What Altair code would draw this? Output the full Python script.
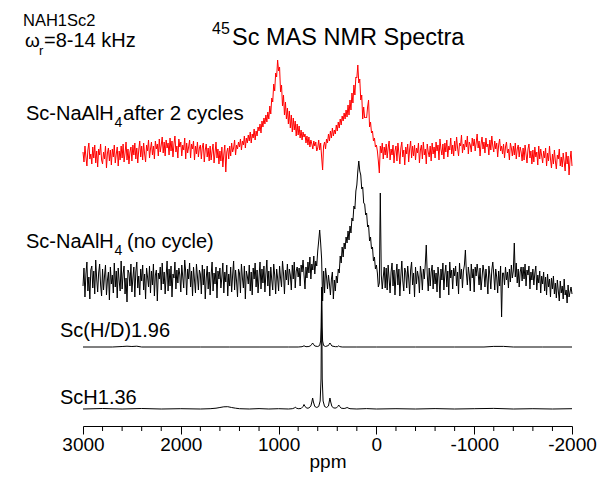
import altair as alt
import pandas as pd

FONT = "Liberation Sans"

# ---------------- data ----------------
# chemical-shift sampling grid of the two noisy spectra (ppm), 10 ppm steps
ppm_grid = list(range(3000, -2001, -10))

# Sc-NaAlH4 after 2 cycles (red), intensity above its own baseline
red_after_2_cycles = [
    3, -7, 9, -2, -11, 5, 12, -4, 1, -9,
    8, -3, 10, -8, 4, -12, 6, 0, 11, -5,
    -9, 3, -4, 9, -13, 2, 7, -6, 5, -10,
    6, -2, 10, -8, 1, 8, -11, 4, -5, 9,
    -3, 11, -7, 2, 13, -5, 6, -9, 3, 8,
    -6, 10, 0, 12, -4, 7, -8, 5, 14, -2,
    9, -5, 12, 1, -7, 10, 4, 15, -3, 6,
    13, 0, 9, -4, 14, 6, 11, -1, 16, 3,
    10, 18, 2, 13, -1, 15, 7, 12, 0, 17,
    4, 14, -2, 11, 19, 3, 9, -3, 16, 8,
    13, -1, 10, 5, 17, -4, 12, 2, 8, 15,
    -3, 11, 6, 14, -5, 9, 1, 13, -2, 7,
    10, -4, 8, 12, -7, 5, 11, -2, 7, -6,
    9, -5, 4, 11, -8, 2, 13, -3, 6, -9,
    4, -6, 8, -12, 1, 10, -17, 3, 7, -4,
    9, -1, 12, 3, 7, 15, 0, 10, 6, 13,
    8, 16, 5, 14, 10, 19, 7, 17, 12, 20,
    14, 23, 12, 21, 17, 26, 15, 24, 19, 28,
    24, 31, 22, 34, 28, 37, 31, 40, 33, 43,
    36, 49, 41, 57, 53, 71, 64, 82, 78, 95,
    84, 88, 63, 70, 49, 60, 40, 53, 36, 47,
    31, 44, 27, 40, 23, 37, 25, 34, 19, 31,
    20, 29, 17, 25, 15, 23, 18, 21, 12, 19,
    10, 18, 8, 15, 11, 6, 14, 9, 13, 4,
    7, 15, 5, 12, -2, -15, 9, 13, 6, 16,
    12, 21, 14, 24, 17, 27, 19, 25, 21, 30,
    24, 33, 27, 36, 30, 39, 34, 42, 36, 45,
    38, 50, 40, 55, 45, 62, 52, 70, 60, 78,
    77, 90, 72, 76, 55, 60, 36, 48, 37, 38,
    37, 48, 55, 28, 33, 22, 24, 14, 17, 8,
    10, 4, -6, -18, 9, 2, 12, -4, 8, 0,
    11, -3, 7, 14, -5, 6, 0, 10, -8, 4,
    9, -6, 12, 2, -9, 7, 13, -2, 5, -10,
    8, 1, 11, -7, 6, 14, -3, 9, -1, 10,
    -5, 7, 2, 12, -8, 5, 10, -4, 13, 0,
    6, -9, 11, 3, -2, 9, -6, 12, 1, 8,
    -3, 13, 4, 10, -5, 16, 6, 0, 11, -4,
    12, 3, 15, -2, 9, 5, 17, 1, 10, -1,
    14, 4, 18, 7, -1, 12, 9, 20, 2, 11,
    5, 15, 8, 19, 1, 13, 10, 3, 17, 9,
    16, 4, 12, 21, 7, 14, -1, 11, 18, 6,
    13, 2, 17, 8, 11, 0, 15, 5, 19, 9,
    3, 14, 6, 12, -2, 10, 16, 4, 9, 1,
    11, -3, 8, 13, 2, 6, -5, 12, 7, -1,
    9, 0, 12, -4, 6, 10, -2, 8, 3, -6,
    7, -5, 10, 1, -8, 6, 11, -3, 4, -9,
    5, -7, 8, -2, 3, -10, 9, -4, 6, -1,
    -8, 4, -3, 7, -11, 2, -6, 9, -4, -13,
    1, -9, 5, -6, -14, 0, -4, 6, -11, -2,
    -12, 2, -7, -16, 3, -9, -1, -20, -5, 4,
    -11,
]

# Sc-NaAlH4 (no cycle), black
black_no_cycle = [
    -5, 13, -16, 7, 19, -10, 4, -18, 11, 15,
    -7, 10, -13, 21, 2, -11, 8, 17, -4, -15,
    12, -9, 5, 16, -14, 1, 9, -19, 14, -3,
    6, -12, 18, -6, 10, -17, 13, 0, -10, 20,
    -8, 7, 15, -13, 3, -21, 11, 8, -5, 17,
    -11, 3, 14, -16, 9, 19, -7, 5, -14, 12,
    0, 16, -9, 7, -18, 13, 4, -6, 15, -12,
    10, -4, 17, -15, 6, 11, -20, 8, 2, 14,
    -9, 18, -3, 9, -13, 5, 20, -10, 12, -5,
    15, -16, 7, 3, 19, -8, 11, -2, 13, 6,
    -11, 16, 4, -7, 21, 9, -14, 12, 2, 18,
    -6, 10, -15, 14, 1, -12, 17, 5, -9, 11,
    7, -13, 16, -4, 12, -18, 3, 15, -8, 9,
    -14, 6, 19, -10, 8, -3, 14, -17, 10, 2,
    13, -7, 4, 18, -12, 9, -1, 16, -15, 7,
    -5, 14, -11, 6, 20, -9, 11, 0, -16, 12,
    8, -12, 17, 3, -7, 15, -18, 10, 5, -3,
    16, -10, 9, -14, 13, 2, 18, -6, 11, -12,
    4, 19, -8, 12, -2, 15, -11, 7, 21, -5,
    10, -15, 14, 1, -9, 17, 6, -13, 12, 3,
    -10, 15, 3, -6, 20, 8, -13, 11, 1, 17,
    -4, 12, 6, -9, 16, 2, 19, -7, 10, 14,
    4, 13, -5, 16, 9, 21, 6, -8, 14, 3,
    19, 8, 24, 2, 17, 11, 25, 7, 20, 15,
    30, 40, 51, 38, 22, -20, 10, -12, 13, 4,
    -8, 6, -3, -14, 2, 9, -18, 1, -10, 5,
    -2, 12, 8, 25, 18, 34, 24, 38, 32, 44,
    38, 50, 41, 55, 48, 63, 60, 75, 72, 90,
    96, 110, 120, 110, 106, 92, 94, 78, 77, 66,
    68, 54, 56, 40, 44, 32, 34, 20, 24, 12,
    16, 8, -6, -2, 88, 6, -8, 4, 14, -7,
    13, -9, 16, 2, -12, 9, 18, -5, 11, -14,
    6, 17, -4, 12, -15, 5, 20, 0, -10, 13,
    9, -7, 15, 3, -13, 11, 19, -4, 8, -16,
    14, -3, 10, 4, -12, 15, 7, -9, 12, 2,
    17, 36, 6, -10, 13, -5, 9, 16, -8, 11,
    -3, 8, -11, 14, 4, -17, 12, 1, 18, -9,
    7, 16, -6, 10, -14, 19, 3, 11, -8, 13,
    5, 15, -5, 9, -13, 18, 2, 12, -7, 10,
    16, 31, 8, -4, 14, 6, -10, 17, 3, 12,
    -11, 14, 5, 17, 8, -4, 13, -9, 3, 16,
    9, -6, 12, 2, -13, 15, 6, -8, 11, 19,
    7, -9, 12, 4, -12, 10, -5, 15, -36, 8,
    8, -4, 14, 1, 9, -7, 12, -1, 16, 3,
    10, 38, 4, 18, -2, 12, -6, 9, 14, 0,
    14, 2, 17, -5, 11, 6, 15, -8, 9, 1,
    12, -4, 8, 15, -9, 6, -2, 10, -12, 5,
    -3, 9, -10, 4, -14, 7, -6, 2, -16, 3,
    -8, 5, -13, -2, -17, 1, -10, -20, 0, -12,
    -5, -18, 2, -14, -9, -22, -4, -16, -11, -6,
    -13,
]

# Sc(H/D)1.96
hd_ppm = [3000, 2700, 2600, 2550, 2500, 2450, 2400, 2100, 1800, 1500,
          1200, 900, 800, 760, 740, 720, 690, 670, 660, 652,
          644, 630, 600, 580, 570, 565, 560, 555, 550, 540,
          520, 490, 483, 475, 467, 455, 420, 395, 385, 375,
          350, 200, 0, -400, -800, -1100, -1200, -1300, -1400, -1700,
          -2000]
hd_int = [0, 0, 0.5, 0.8, 0.5, 0.8, 0, 0, 0, 0,
          0, 0, 0, 0.3, 1.2, 0.3, 0.5, 1.5, 2.8, 4,
          2.8, 1, 0.5, 1.5, 6, 20, 60, 20, 6, 1.5,
          0.5, 1.5, 2.8, 4, 2.8, 1, 0.3, 0.4, 1.2, 0.4,
          0, 0, 0, 0, 0, 0, 0.6, 0.6, 0, 0,
          0]

# ScH1.36
sch_ppm = [3000, 2800, 2600, 2400, 2200, 2000, 1800, 1700, 1640, 1600,
           1560, 1520, 1480, 1440, 1400, 1300, 1200, 1100, 1000, 900,
           860, 840, 830, 820, 800, 770, 750, 740, 730, 710,
           690, 670, 660, 652, 644, 630, 610, 590, 575, 566,
           560, 554, 545, 530, 510, 490, 483, 475, 467, 455,
           435, 410, 395, 385, 375, 360, 330, 310, 300, 290,
           270, 200, 100, 0, -200, -400, -600, -800, -1000, -1200,
           -1400, -1600, -1800, -2000]
sch_int = [0, 0.5, 0, 0.5, 0, 0.3, 0, 0.3, 0.8, 1.5,
           2.2, 2.3, 1.5, 0.8, 0.3, 0, 0.4, 0, 0.3, 0,
           0.3, 1, 1.8, 1, 0.3, 0.5, 2.5, 4.5, 2.5, 0.8,
           1, 3, 7, 11, 7, 2.5, 1.5, 2.5, 8, 30,
           119, 30, 8, 2.5, 1.5, 3, 7, 11, 7, 2.5,
           1, 1, 2.5, 4, 2.5, 0.8, 0.5, 1, 1.6, 1,
           0.3, 0, 0.4, 0, 0.3, 0, 0.4, 0, 0.3, 0.6,
           0, 0.3, 0, 0.3]

major_ticks = [3000, 2000, 1000, 0, -1000, -2000]
minor_ticks = [2800, 2600, 2400, 2200, 1800, 1600, 1400, 1200,
               800, 600, 400, 200, -200, -400, -600, -800,
               -1200, -1400, -1600, -1800]

assert len(red_after_2_cycles) == len(ppm_grid), len(red_after_2_cycles)
assert len(black_no_cycle) == len(ppm_grid), len(black_no_cycle)
assert len(hd_ppm) == len(hd_int)
assert len(sch_ppm) == len(sch_int)

# vertical stacking offsets of the spectra
OFFSETS = {"red": 271, "nocycle": 145, "hd": 79, "sch": 17}

rows = []
for p, v in zip(ppm_grid, red_after_2_cycles):
    rows.append({"ppm": p, "y": v + OFFSETS["red"], "series": "red"})
for p, v in zip(ppm_grid, black_no_cycle):
    rows.append({"ppm": p, "y": v + OFFSETS["nocycle"], "series": "nocycle"})
for p, v in zip(hd_ppm, hd_int):
    rows.append({"ppm": p, "y": v + OFFSETS["hd"], "series": "hd"})
for p, v in zip(sch_ppm, sch_int):
    rows.append({"ppm": p, "y": v + OFFSETS["sch"], "series": "sch"})
df = pd.DataFrame(rows)

W, H = 489, 426
LEFT = 83

xscale = alt.Scale(domain=[-2000, 3000], reverse=True, nice=False, zero=False)
yscale = alt.Scale(domain=[0, H], nice=False, zero=False)

xaxis = alt.Axis(
    values=major_ticks, labelExpr="'' + datum.value", tickSize=8,
    tickColor="black", tickWidth=1, domainColor="black", domainWidth=1,
    labelFont=FONT, labelFontSize=19, labelColor="black", labelPadding=1,
    labelFlush=False, labelOverlap=False, grid=False,
    title="ppm", titleFont=FONT, titleFontSize=19, titleFontWeight="normal",
    titleColor="black", titlePadding=-2,
)

lines = alt.Chart(df).mark_line(strokeWidth=1).encode(
    x=alt.X("ppm:Q", scale=xscale, axis=xaxis),
    y=alt.Y("y:Q", scale=yscale, axis=None),
    color=alt.Color("series:N",
                    scale=alt.Scale(domain=["red", "nocycle", "hd", "sch"],
                                    range=["#ff0000", "#000000", "#000000", "#000000"]),
                    legend=None),
)

minor = alt.Chart(pd.DataFrame({"ppm": minor_ticks})).mark_rule(
    color="black", strokeWidth=1).encode(
    x=alt.X("ppm:Q", scale=xscale, axis=xaxis),
    y=alt.value(H), y2=alt.value(H + 5),
)


def txt(s, x_abs, y_base, size):
    return alt.Chart(pd.DataFrame({"t": [s]})).mark_text(
        align="left", baseline="alphabetic", font=FONT, fontSize=size,
        color="black").encode(
        text="t:N", x=alt.value(x_abs - LEFT), y=alt.value(y_base))


texts = [
    txt("NAH1Sc2", 23, 26, 16.5),
    txt("ω", 25, 47, 19),
    txt("r", 39, 55, 13),
    txt("=8-14 kHz", 44, 47, 20),
    txt("45", 212, 34, 16),
    txt("Sc MAS NMR Spectra", 232, 45, 23.5),
    txt("Sc-NaAlH", 26, 120, 20),
    txt("4", 114.5, 127, 14),
    txt("after 2 cycles", 123, 120, 20.5),
    txt("Sc-NaAlH", 26, 248, 20),
    txt("4", 114.5, 255, 14),
    txt("(no cycle)", 127, 248, 20),
    txt("Sc(H/D)1.96", 60, 337, 20),
    txt("ScH1.36", 60, 404, 20),
]

chart = alt.layer(lines, minor, *texts).properties(
    width=W, height=H,
    padding={"left": LEFT, "top": 0, "right": 27, "bottom": 52},
    autosize=alt.AutoSizeParams(type="none"),
).configure_view(stroke=None).configure_axis(grid=False)

chart.save("out.html", embed_options={"renderer": "svg", "actions": False})
